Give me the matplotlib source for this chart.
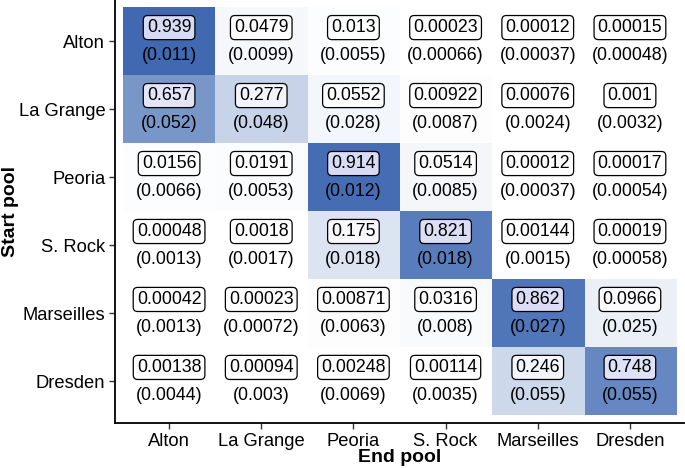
import matplotlib
matplotlib.use("Agg")
import matplotlib.pyplot as plt
import numpy as np
from matplotlib.colors import LinearSegmentedColormap

pools = ["Alton", "La Grange", "Peoria", "S. Rock", "Marseilles", "Dresden"]

prob_alton = [0.939, 0.0479, 0.013, 0.00023, 0.00012, 0.00015]
prob_lagrange = [0.657, 0.277, 0.0552, 0.00922, 0.00076, 0.001]
prob_peoria = [0.0156, 0.0191, 0.914, 0.0514, 0.00012, 0.00017]
prob_srock = [0.00048, 0.0018, 0.175, 0.821, 0.00144, 0.00019]
prob_marseilles = [0.00042, 0.00023, 0.00871, 0.0316, 0.862, 0.0966]
prob_dresden = [0.00138, 0.00094, 0.00248, 0.00114, 0.246, 0.748]

se_alton = [0.011, 0.0099, 0.0055, 0.00066, 0.00037, 0.00048]
se_lagrange = [0.052, 0.048, 0.028, 0.0087, 0.0024, 0.0032]
se_peoria = [0.0066, 0.0053, 0.012, 0.0085, 0.00037, 0.00054]
se_srock = [0.0013, 0.0017, 0.018, 0.018, 0.0015, 0.00058]
se_marseilles = [0.0013, 0.00072, 0.0063, 0.008, 0.027, 0.025]
se_dresden = [0.0044, 0.003, 0.0069, 0.0035, 0.055, 0.055]

probs = np.array([prob_alton, prob_lagrange, prob_peoria, prob_srock,
                  prob_marseilles, prob_dresden])
ses = np.array([se_alton, se_lagrange, se_peoria, se_srock,
                se_marseilles, se_dresden])

plt.rcParams['font.family'] = ['Liberation Sans', 'DejaVu Sans']

W, H = 685, 468
fig = plt.figure(figsize=(W / 100, H / 100), dpi=100)
left, right, bottom, top = 115, 684, 423, 0
ax = fig.add_axes([left / W, (H - bottom) / H, (right - left) / W, (bottom - top) / H])

cmap = LinearSegmentedColormap.from_list("wb", ["#FFFFFF", "#3560AE"])
box_cmap = LinearSegmentedColormap.from_list("wl", ["#FFFFFF", "#D4D8F2"])
n = len(pools)
ax.imshow(probs, cmap=cmap, vmin=0, vmax=1, aspect='auto',
          extent=(-0.5, n - 0.5, n - 0.5, -0.5), interpolation='nearest')

for i in range(n):
    for j in range(n):
        v = probs[i, j]
        fill = box_cmap(v)
        ax.text(j, i - 0.2, f"{v:g}", ha='center', va='center', fontsize=12.8,
                color='black',
                bbox=dict(boxstyle='round,pad=0.2,rounding_size=0.25',
                          facecolor=fill, edgecolor='black', linewidth=0.9))
        ax.text(j, i + 0.21, f"({ses[i, j]:g})", ha='center', va='center',
                fontsize=12.8, color='black')

dx = 8 / 92.2
dy = 8 / 68
ax.set_xlim(-0.5 - dx, n - 0.5 + dx)
ax.set_ylim(n - 0.5 + dy, -0.5 - dy * 0.9)

ax.set_xticks(range(n))
ax.set_xticklabels(pools, fontsize=13.2)
ax.set_yticks(range(n))
ax.set_yticklabels(pools, fontsize=13.2)
ax.tick_params(axis='both', length=4, width=1, color='#333333', pad=3)

for s in ['top', 'right']:
    ax.spines[s].set_visible(False)
for s in ['left', 'bottom']:
    ax.spines[s].set_linewidth(1.3)
    ax.spines[s].set_color('black')

ax.set_xlabel("End pool", fontsize=14, fontweight='bold')
ax.set_ylabel("Start pool", fontsize=14, fontweight='bold')
ax.xaxis.set_label_coords(0.5, (bottom - 457) / bottom)
ax.xaxis.label.set_va('center')
ax.yaxis.set_label_coords((11 - left) / (right - left), 0.5)
ax.yaxis.label.set_va('center')

fig.savefig("out.png", dpi=100)
